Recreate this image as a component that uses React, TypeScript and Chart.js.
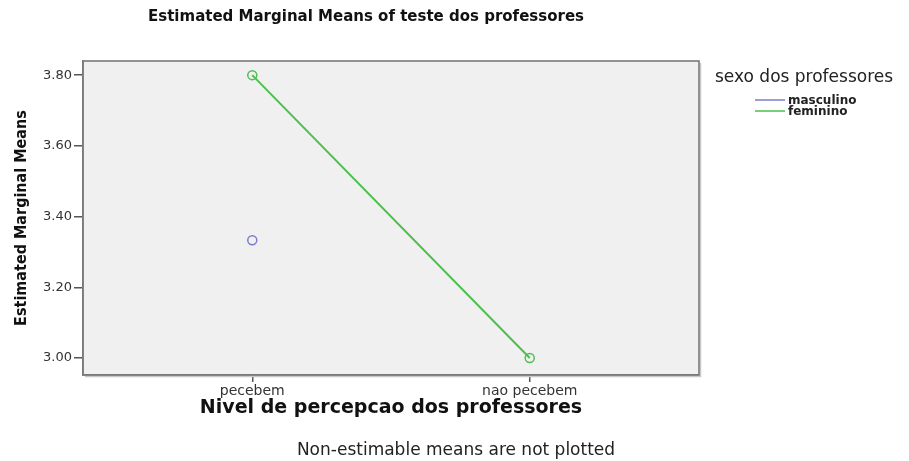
import React, { useEffect, useRef } from "react";
import { Chart, registerables } from "chart.js";

Chart.register(...registerables);

const chartTitle = "Estimated Marginal Means of teste dos professores";
const xAxisTitle = "Nivel de percepcao dos professores";
const yAxisTitle = "Estimated Marginal Means";
const legendTitle = "sexo dos professores";
const footnote = "Non-estimable means are not plotted";

const categories = ["pecebem", "nao pecebem"];
const seriesNames = ["masculino", "feminino"];
const masculino: (number | null)[] = [3.333, null];
const feminino: (number | null)[] = [3.8, 3.0];
const yTickValues = [3.0, 3.2, 3.4, 3.6, 3.8];

const seriesColors = ["#7b7bcf", "#4cbf4c"];

const FONT = "'DejaVu Sans', 'Liberation Sans', Arial, sans-serif";
const NARROW = "'DejaVu Sans Condensed', 'Liberation Sans Narrow', 'Arial Narrow', sans-serif";

export default function App() {
  const canvasRef = useRef<HTMLCanvasElement | null>(null);

  useEffect(() => {
    document.body.style.margin = "0";
    const canvas = canvasRef.current;
    if (!canvas) return;

    const toPoints = (arr: (number | null)[]) =>
      arr.map((v, i) => ({ x: i, y: v as any }));

    const decor = {
      id: "spssDecor",
      beforeDraw(chart: any) {
        const { ctx, chartArea: a } = chart;
        ctx.save();
        ctx.fillStyle = "#f0f0f0";
        ctx.fillRect(a.left, a.top, a.right - a.left, a.bottom - a.top);
        ctx.restore();
      },
      afterDraw(chart: any) {
        const { ctx, chartArea: a } = chart;
        ctx.save();
        // frame
        ctx.strokeStyle = "#c8c8c8";
        ctx.lineWidth = 1.5;
        ctx.beginPath();
        ctx.moveTo(a.right + 1.5, a.top + 2);
        ctx.lineTo(a.right + 1.5, a.bottom + 1.5);
        ctx.lineTo(a.left + 2, a.bottom + 1.5);
        ctx.stroke();
        ctx.strokeStyle = "#7a7a7a";
        ctx.lineWidth = 1.6;
        ctx.strokeRect(a.left, a.top, a.right - a.left, a.bottom - a.top);

        // title
        ctx.fillStyle = "#111";
        ctx.font = `bold 15px ${FONT}`;
        ctx.textAlign = "center";
        ctx.textBaseline = "middle";
        ctx.fillText(chartTitle, 366, 17);

        // legend
        ctx.textAlign = "left";
        ctx.fillStyle = "#222";
        ctx.font = `17px ${FONT}`;
        ctx.fillText(legendTitle, 715, 78);
        ctx.font = `bold 12px ${FONT}`;
        seriesNames.forEach((name, i) => {
          const y = 100 + i * 11;
          ctx.strokeStyle = seriesColors[i];
          ctx.lineWidth = 1.5;
          ctx.beginPath();
          ctx.moveTo(755, y);
          ctx.lineTo(785, y);
          ctx.stroke();
          ctx.fillStyle = "#222";
          ctx.fillText(name, 788, y + 0.5);
        });

        // footnote
        ctx.textAlign = "center";
        ctx.font = `17px ${FONT}`;
        ctx.fillStyle = "#222";
        ctx.fillText(footnote, 456, 451);
        ctx.restore();
      },
    };

    const chart = new Chart(canvas, {
      type: "line",
      data: {
        datasets: [
          {
            label: seriesNames[0],
            data: toPoints(masculino),
            borderColor: seriesColors[0],
            backgroundColor: "transparent",
            pointBorderColor: seriesColors[0],
            pointBackgroundColor: "transparent",
            pointRadius: 4.5,
            pointBorderWidth: 1.5,
            borderWidth: 2,
            spanGaps: false,
          },
          {
            label: seriesNames[1],
            data: toPoints(feminino),
            borderColor: seriesColors[1],
            backgroundColor: "transparent",
            pointBorderColor: seriesColors[1],
            pointBackgroundColor: "transparent",
            pointRadius: 4.5,
            pointBorderWidth: 1.5,
            borderWidth: 2,
            spanGaps: false,
          },
        ],
      },
      options: {
        responsive: false,
        animation: false,
        clip: false as any,
        layout: { padding: { left: 0, top: 61, right: 210, bottom: 30 } },
        plugins: {
          legend: { display: false },
          title: { display: false },
          tooltip: { enabled: false },
        },
        scales: {
          x: {
            type: "linear",
            min: -0.61,
            max: 1.61,
            afterBuildTicks: (s: any) => {
              s.ticks = categories.map((_, i) => ({ value: i }));
            },
            afterFit: (s: any) => {
              s.height = 56;
            },
            ticks: {
              callback: (v: any) => categories[v] ?? "",
              font: { family: FONT, size: 14 },
              color: "#333",
              padding: 1,
              maxRotation: 0,
              autoSkip: false,
            },
            grid: {
              drawOnChartArea: false,
              drawTicks: true,
              tickLength: 7,
              color: "#555",
              lineWidth: 1.5,
            },
            border: { display: true, color: "#7a7a7a", width: 1.6 },
            title: {
              display: true,
              text: xAxisTitle,
              font: { family: FONT, size: 19, weight: "bold" },
              color: "#111",
              padding: { top: 0, bottom: 12 },
            },
          },
          y: {
            type: "linear",
            min: 2.952,
            max: 3.84,
            afterBuildTicks: (s: any) => {
              s.ticks = yTickValues.map((v) => ({ value: v }));
            },
            afterFit: (s: any) => {
              s.width = 83;
            },
            ticks: {
              callback: (v: any) => Number(v).toFixed(2),
              font: { family: FONT, size: 13 },
              color: "#333",
              padding: 2,
            },
            grid: {
              drawOnChartArea: false,
              drawTicks: true,
              tickLength: 9,
              color: "#555",
              lineWidth: 1.5,
            },
            border: { display: true, color: "#7a7a7a", width: 1.6 },
            title: {
              display: true,
              text: yAxisTitle,
              font: { family: NARROW, size: 16, weight: "bold" },
              color: "#111",
              padding: { top: 12, bottom: 0 },
            },
          },
        },
      },
      plugins: [decor],
    });

    return () => chart.destroy();
  }, []);

  return (
    <div style={{ width: 909, height: 461 }}>
      <canvas ref={canvasRef} width={909} height={461} style={{ display: "block" }} />
    </div>
  );
}
